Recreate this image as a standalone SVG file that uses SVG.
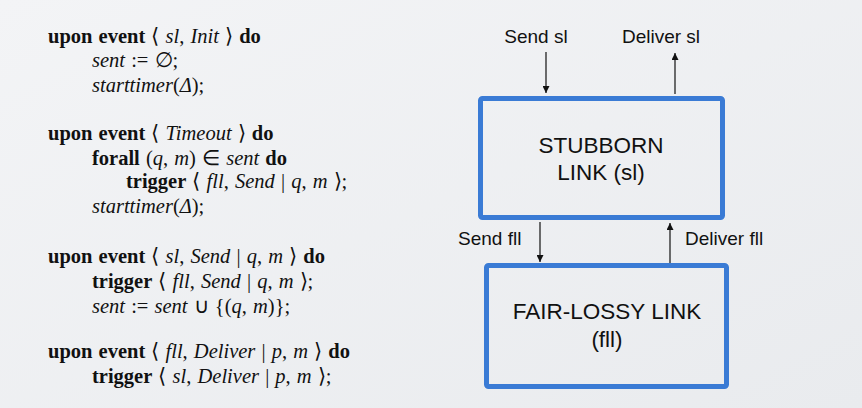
<svg xmlns="http://www.w3.org/2000/svg" width="862" height="408" viewBox="0 0 862 408">
<defs>
<marker id="ah" viewBox="0 0 10 10" refX="10" refY="5" markerWidth="7" markerHeight="7" markerUnits="userSpaceOnUse" orient="auto">
<path d="M0,0 L10,5 L0,10 z" fill="#111"/>
</marker>
<linearGradient id="bg" x1="0" y1="0" x2="1" y2="1">
<stop offset="0" stop-color="#f3f4f6"/>
<stop offset="1" stop-color="#e9ebee"/>
</linearGradient>
</defs>
<style>
.code{font-family:"Liberation Serif","Times New Roman",serif;font-size:20.5px;fill:#111;word-spacing:1px}
.b{font-weight:bold}
.i{font-style:italic}
.lbl{font-family:"Liberation Sans",Arial,sans-serif;font-size:19px;fill:#111}
.ttl{font-family:"Liberation Sans",Arial,sans-serif;font-size:22.5px;fill:#111;text-anchor:middle}
.box{fill:none;stroke:#3a7bd5;stroke-width:5}
.conn{stroke:#111;stroke-width:1.2;fill:none;marker-end:url(#ah)}
</style>
<rect width="862" height="408" fill="url(#bg)"/>
<g id="code">
<text class="code" x="48" y="43"><tspan class="b">upon event</tspan> ⟨ <tspan class="i">sl</tspan>, <tspan class="i">Init</tspan> ⟩ <tspan class="b">do</tspan></text>
<text class="code" x="92" y="67"><tspan class="i">sent</tspan> := ∅;</text>
<text class="code" x="92" y="92"><tspan class="i">starttimer</tspan>(<tspan class="i">Δ</tspan>);</text>
<text class="code" x="48" y="140"><tspan class="b">upon event</tspan> ⟨ <tspan class="i">Timeout</tspan> ⟩ <tspan class="b">do</tspan></text>
<text class="code" x="92" y="165"><tspan class="b">forall</tspan> (<tspan class="i">q</tspan>, <tspan class="i">m</tspan>) ∈ <tspan class="i">sent</tspan> <tspan class="b">do</tspan></text>
<text class="code" x="126" y="188"><tspan class="b">trigger</tspan> ⟨ <tspan class="i">fll</tspan>, <tspan class="i">Send</tspan> | <tspan class="i">q</tspan>, <tspan class="i">m</tspan> ⟩;</text>
<text class="code" x="92" y="213"><tspan class="i">starttimer</tspan>(<tspan class="i">Δ</tspan>);</text>
<text class="code" x="48" y="263"><tspan class="b">upon event</tspan> ⟨ <tspan class="i">sl</tspan>, <tspan class="i">Send</tspan> | <tspan class="i">q</tspan>, <tspan class="i">m</tspan> ⟩ <tspan class="b">do</tspan></text>
<text class="code" x="92" y="288"><tspan class="b">trigger</tspan> ⟨ <tspan class="i">fll</tspan>, <tspan class="i">Send</tspan> | <tspan class="i">q</tspan>, <tspan class="i">m</tspan> ⟩;</text>
<text class="code" x="92" y="313"><tspan class="i">sent</tspan> := <tspan class="i">sent</tspan> ∪ {(<tspan class="i">q</tspan>, <tspan class="i">m</tspan>)};</text>
<text class="code" x="48" y="358"><tspan class="b">upon event</tspan> ⟨ <tspan class="i">fll</tspan>, <tspan class="i">Deliver</tspan> | <tspan class="i">p</tspan>, <tspan class="i">m</tspan> ⟩ <tspan class="b">do</tspan></text>
<text class="code" x="92" y="383"><tspan class="b">trigger</tspan> ⟨ <tspan class="i">sl</tspan>, <tspan class="i">Deliver</tspan> | <tspan class="i">p</tspan>, <tspan class="i">m</tspan> ⟩;</text>
</g>
<g id="stubborn">
<rect class="box" x="480.5" y="98.5" width="242" height="119" rx="2"/>
<text class="ttl" x="601" y="153">STUBBORN</text>
<text class="ttl" x="601" y="180">LINK (sl)</text>
</g>
<g id="fairlossy">
<rect class="box" x="486.5" y="265.5" width="240" height="121" rx="2"/>
<text class="ttl" x="607" y="319">FAIR-LOSSY LINK</text>
<text class="ttl" x="607" y="347">(fll)</text>
</g>
<g id="connectors">
<line class="conn" x1="546" y1="52" x2="546" y2="93"/>
<line class="conn" x1="675" y1="94" x2="675" y2="53"/>
<line class="conn" x1="540" y1="222" x2="540" y2="262"/>
<line class="conn" x1="670" y1="263" x2="670" y2="223"/>
<text class="lbl" x="536" y="43" text-anchor="middle">Send sl</text>
<text class="lbl" x="661" y="43" text-anchor="middle">Deliver sl</text>
<text class="lbl" x="458" y="245">Send fll</text>
<text class="lbl" x="685" y="245">Deliver fll</text>
</g>
</svg>
